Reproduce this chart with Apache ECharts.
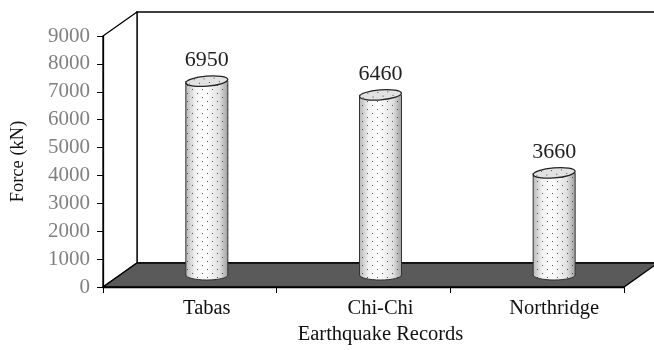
<!DOCTYPE html>
<html><head><meta charset="utf-8">
<script src="https://cdn.jsdelivr.net/npm/echarts@6/dist/echarts.min.js"></script>
<style>html,body{margin:0;padding:0;background:#fff}#c{width:654px;height:350px}</style>
</head><body><div id="c"></div>
<script>
// ---- data ----
const categories = ['Tabas', 'Chi-Chi', 'Northridge'];
const forces = [6950, 6460, 3660];
const yMin = 0, yMax = 9000, yStep = 1000;
const xTitle = 'Earthquake Records';
const yTitle = 'Force (kN)';

// ---- styling ----
const DX = 34, DY = -24;           // depth offset of the 3D frame
const FONT = '"Liberation Serif", "Times New Roman", serif';
const RX = 21, RY = 5;

function makeDots() {
  const c = document.createElement('canvas');
  c.width = 10; c.height = 8;
  const g = c.getContext('2d');
  g.fillStyle = 'rgba(40,40,40,0.8)';
  g.fillRect(2, 1, 1, 1);
  g.fillRect(7, 5, 1, 1);
  return c;
}
const dots = makeDots();
const dotFill = { image: dots, repeat: 'repeat' };

const chart = echarts.init(document.getElementById('c'), null, { renderer: 'canvas' });

function bodyGrad() {
  return new echarts.graphic.LinearGradient(0, 0, 1, 0, [
    { offset: 0, color: '#b8b8b8' },
    { offset: 0.22, color: '#f2f2f2' },
    { offset: 0.45, color: '#ffffff' },
    { offset: 0.8, color: '#e0e0e0' },
    { offset: 1, color: '#a0a0a0' }
  ]);
}

const option = {
  animation: false,
  backgroundColor: '#fff',
  grid: { left: 103, right: 30, top: 36, bottom: 59, containLabel: false },
  xAxis: {
    type: 'category',
    data: categories,
    z: 5,
    axisLine: { show: true, lineStyle: { color: '#000', width: 1.3 } },
    axisTick: { show: true, interval: 0, alignWithLabel: false, length: 6, lineStyle: { color: '#000', width: 1 } },
    axisLabel: { color: '#111', fontFamily: FONT, fontSize: 20.5, margin: 11, padding: [0, 0, 0, 34] },
    name: xTitle,
    nameLocation: 'middle',
    nameGap: 37,
    nameTextStyle: { color: '#111', fontFamily: FONT, fontSize: 20.5, padding: [0, 0, 0, 34] },
    splitLine: { show: false }
  },
  yAxis: {
    type: 'value',
    min: yMin, max: yMax, interval: yStep,
    z: 5,
    axisLine: { show: true, lineStyle: { color: '#000', width: 1.3 } },
    axisTick: { show: true, length: 6, lineStyle: { color: '#000', width: 1 } },
    axisLabel: { color: '#808080', fontFamily: FONT, fontSize: 21, margin: 13, formatter: function (v) { return String(v); } },
    splitLine: { show: false },
    name: yTitle,
    nameLocation: 'middle',
    nameGap: 75,
    nameRotate: 90,
    nameTextStyle: { color: '#111', fontFamily: FONT, fontSize: 18.5 }
  },
  series: [
    {
      type: 'custom',
      name: 'frame',
      clip: false,
      z: 1,
      silent: true,
      data: [[0, 0]],
      renderItem: function (params, api) {
        const cs = params.coordSys;
        const x0 = cs.x, x1 = cs.x + cs.width, yt = cs.y, yb = cs.y + cs.height;
        return {
          type: 'group',
          children: [
            { type: 'polygon', shape: { points: [[x0 + DX, yt + DY], [x1 + DX, yt + DY], [x1 + DX, yb + DY], [x0 + DX, yb + DY]] },
              style: { fill: '#fff', stroke: '#000', lineWidth: 1.3 } },
            { type: 'polygon', shape: { points: [[x0, yt], [x0 + DX, yt + DY], [x0 + DX, yb + DY], [x0, yb]] },
              style: { fill: '#fff', stroke: '#000', lineWidth: 1.3 } },
            { type: 'polygon', shape: { points: [[x0, yb], [x0 + DX, yb + DY], [x1 + DX, yb + DY], [x1, yb]] },
              style: { fill: '#5a5a5a', stroke: '#000', lineWidth: 1.3 } }
          ]
        };
      }
    },
    {
      type: 'custom',
      name: 'Force',
      clip: false,
      z: 3,
      data: forces.map((v, i) => [i, v]),
      encode: { x: 0, y: 1 },
      renderItem: function (params, api) {
        const i = api.value(0), v = api.value(1);
        const top = api.coord([i, v]);
        const base = api.coord([i, 0]);
        const cx = top[0] + DX / 2;
        const ty = top[1] + DY / 2;
        const by = base[1] + DY / 2;
        return {
          type: 'group',
          children: [
            { type: 'ellipse', shape: { cx: cx, cy: by, rx: RX, ry: RY }, style: { fill: bodyGrad(), stroke: '#333', lineWidth: 1 } },
            { type: 'ellipse', shape: { cx: cx, cy: by, rx: RX, ry: RY }, style: { fill: dotFill } },
            { type: 'rect', shape: { x: cx - RX, y: ty, width: RX * 2, height: by - ty }, style: { fill: bodyGrad() } },
            { type: 'rect', shape: { x: cx - RX, y: ty, width: RX * 2, height: by - ty }, style: { fill: dotFill } },
            { type: 'line', shape: { x1: cx - RX, y1: ty, x2: cx - RX, y2: by }, style: { stroke: '#333', lineWidth: 1 } },
            { type: 'line', shape: { x1: cx + RX, y1: ty, x2: cx + RX, y2: by }, style: { stroke: '#333', lineWidth: 1 } },
            { type: 'ellipse', x: cx, y: ty, rotation: 0.08, shape: { cx: 0, cy: 0, rx: RX, ry: RY }, style: { fill: '#e2e2e2', stroke: '#222', lineWidth: 1.3 } },
            { type: 'ellipse', x: cx, y: ty, rotation: 0.08, shape: { cx: 0, cy: 0, rx: RX - 1, ry: RY - 1 }, style: { fill: dotFill } },
            { type: 'text', style: { text: String(v), x: cx, y: ty - 21, align: 'center', verticalAlign: 'middle', font: '22px ' + FONT, fill: '#222' } }
          ]
        };
      }
    }
  ]
};
chart.setOption(option);
</script>
</body></html>
